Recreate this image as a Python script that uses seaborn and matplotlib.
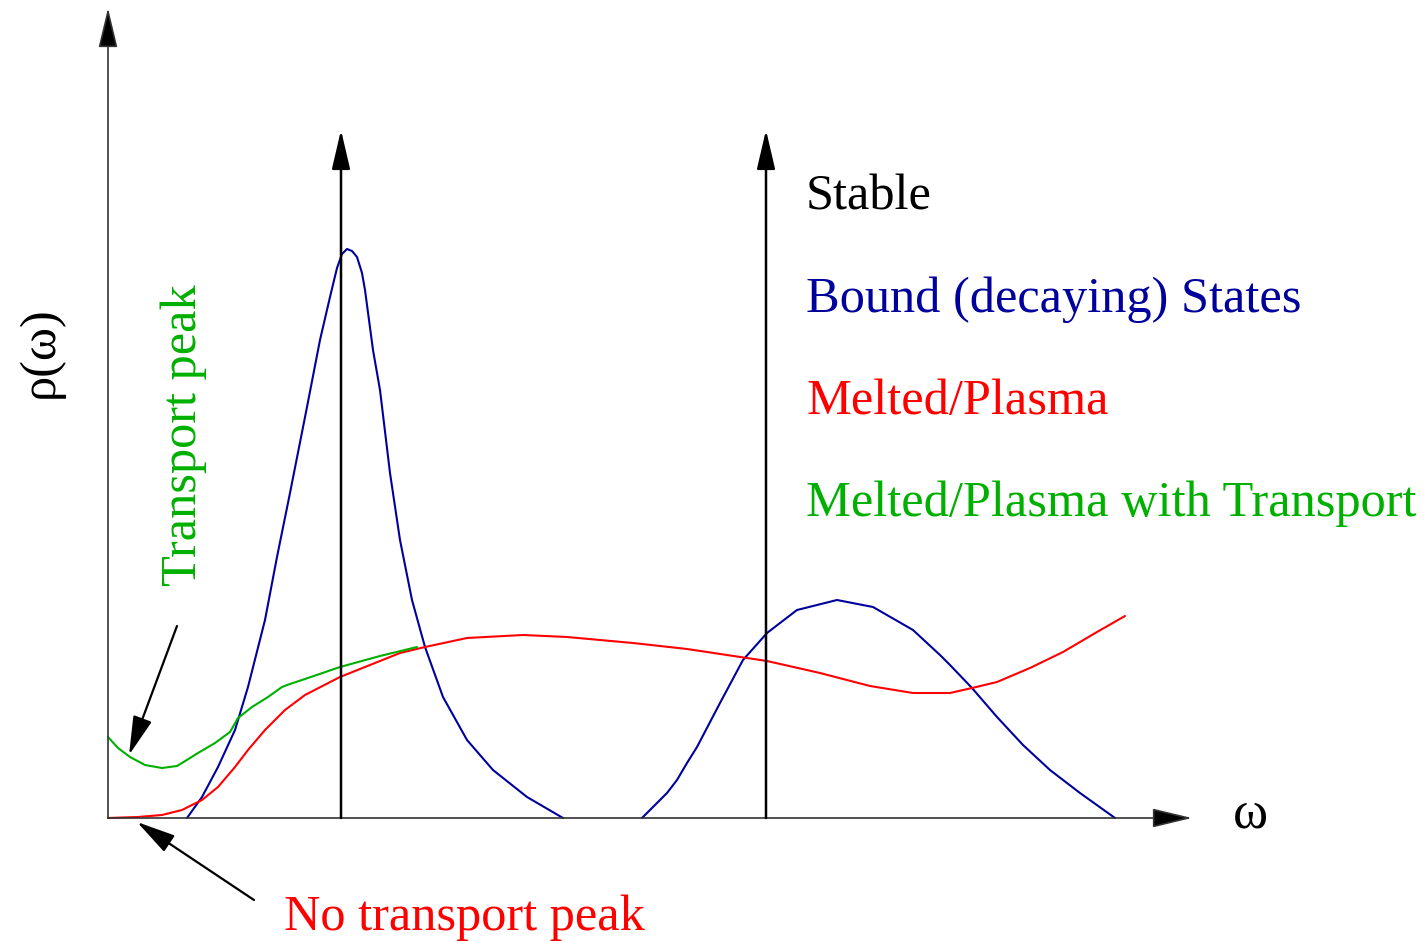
import numpy as np
import pandas as pd
import seaborn as sns
import matplotlib.pyplot as plt

# Schematic spectral functions (omega, rho in arbitrary units)
bound1_w = [0.79, 0.94, 1.10, 1.27, 1.40, 1.57, 1.69, 1.82, 1.99, 2.12, 2.22, 2.29, 2.34, 2.39, 2.44,
            2.49, 2.54, 2.57, 2.65, 2.72, 2.82, 2.92, 3.04, 3.17, 3.35, 3.59, 3.85, 4.19, 4.55]
bound1_r = [0.00, 0.21, 0.51, 0.88, 1.31, 1.98, 2.61, 3.25, 4.11, 4.78, 5.21, 5.50, 5.64, 5.69, 5.67,
            5.61, 5.45, 5.28, 4.68, 4.28, 3.45, 2.78, 2.18, 1.71, 1.21, 0.78, 0.48, 0.21, 0.00]

bound2_w = [5.34, 5.59, 5.69, 5.79, 5.89, 6.12, 6.35, 6.59, 6.89, 7.29, 7.65, 8.05, 8.32, 8.42,
            8.64, 8.89, 9.15, 9.42, 9.72, 10.07]
bound2_r = [0.00, 0.25, 0.38, 0.55, 0.71, 1.15, 1.58, 1.85, 2.08, 2.18, 2.11, 1.88, 1.63, 1.53,
            1.30, 1.01, 0.73, 0.48, 0.25, 0.00]

plasma_w = [0.00, 0.30, 0.54, 0.74, 0.94, 1.10, 1.27, 1.40, 1.57, 1.77, 1.97, 2.32, 2.92, 3.17, 3.59,
            4.15, 4.59, 5.25, 5.79, 6.39, 6.59, 7.12, 7.62, 8.05, 8.42, 8.64, 8.89, 9.22, 9.55, 9.89, 10.17]
plasma_r = [0.00, 0.01, 0.03, 0.08, 0.18, 0.31, 0.51, 0.68, 0.88, 1.08, 1.23, 1.41, 1.65, 1.71, 1.80,
            1.83, 1.81, 1.75, 1.69, 1.60, 1.57, 1.45, 1.32, 1.25, 1.25, 1.30, 1.36, 1.50, 1.66, 1.86, 2.02]

transport_w = [0.00, 0.10, 0.22, 0.37, 0.54, 0.69, 0.74, 0.90, 1.07, 1.22, 1.30, 1.44, 1.60, 1.74,
               1.79, 1.97, 2.32, 2.72, 3.09]
transport_r = [0.81, 0.70, 0.61, 0.53, 0.50, 0.52, 0.55, 0.65, 0.75, 0.86, 1.00, 1.11, 1.21, 1.31,
               1.33, 1.39, 1.51, 1.62, 1.71]

# delta functions for stable states
stable_w = [2.33, 6.58]
stable_height = 6.88

legend_labels = ["Stable", "Bound (decaying) States", "Melted/Plasma", "Melted/Plasma with Transport"]
legend_colors = ["black", "#00009c", "#ff0000", "#00b000"]

sns.set_style("white")
plt.rcParams['font.family'] = ['Liberation Serif', 'DejaVu Serif']

fig = plt.figure(figsize=(14.28, 9.41), dpi=100)
ax = fig.add_axes([0, 0, 1, 1])
ax.set_xlim(-1.08, 13.20)
ax.set_ylim(-1.23, 8.18)
ax.axis("off")

curves = [
    (bound1_w, bound1_r, legend_colors[1]),
    (bound2_w, bound2_r, legend_colors[1]),
    (plasma_w, plasma_r, legend_colors[2]),
    (transport_w, transport_r, legend_colors[3]),
]
for w, r, c in curves:
    df = pd.DataFrame({"omega": w, "rho": r})
    sns.lineplot(data=df, x="omega", y="rho", sort=False, color=c, lw=1.5, ax=ax,
                 solid_joinstyle="round", solid_capstyle="round")

# axes with arrowheads
axis_head = "-|>,head_length=1.25,head_width=0.3"
ax.annotate("", xy=(0, 8.10), xytext=(0, 0),
            arrowprops=dict(arrowstyle=axis_head, mutation_scale=20, lw=1.2, color="#333333", fc="black", shrinkA=0, shrinkB=0))
ax.annotate("", xy=(10.84, 0), xytext=(0, 0),
            arrowprops=dict(arrowstyle=axis_head, mutation_scale=20, lw=1.2, color="#333333", fc="black", shrinkA=0, shrinkB=0))

for w in stable_w:
    ax.annotate("", xy=(w, stable_height), xytext=(w, 0),
                arrowprops=dict(arrowstyle="-|>,head_length=1.2,head_width=0.28", mutation_scale=20, lw=1.8, color="black", shrinkA=0, shrinkB=0))

# pointer arrows
ax.annotate("", xy=(0.21, 0.63), xytext=(0.69, 1.92),
            arrowprops=dict(arrowstyle="-|>,head_length=1.2,head_width=0.3", mutation_scale=20, lw=1.6, color="black", shrinkA=0, shrinkB=0))
ax.annotate("", xy=(0.29, -0.04), xytext=(1.46, -0.82),
            arrowprops=dict(arrowstyle="-|>,head_length=1.2,head_width=0.3", mutation_scale=20, lw=1.6, color="black", shrinkA=0, shrinkB=0))

fs = 36.3
for i, (lab, c) in enumerate(zip(legend_labels, legend_colors)):
    ax.text(6.98, 6.08 - 1.02 * i, lab, color=c, fontsize=fs, va="baseline", ha="left")

ax.text(1.76, -1.12, "No transport peak", color=legend_colors[2], fontsize=fs, va="baseline", ha="left")
ax.text(0.76, 3.83, "Transport peak", color=legend_colors[3], fontsize=fs, rotation=90, va="center", ha="center")
ax.text(-0.68, 4.66, "ρ(ω)", color="black", fontsize=fs, rotation=90, va="center", ha="center")
ax.text(11.42, 0.03, "ω", color="black", fontsize=fs + 2, va="center", ha="center")

fig.savefig("out.png", dpi=100)
